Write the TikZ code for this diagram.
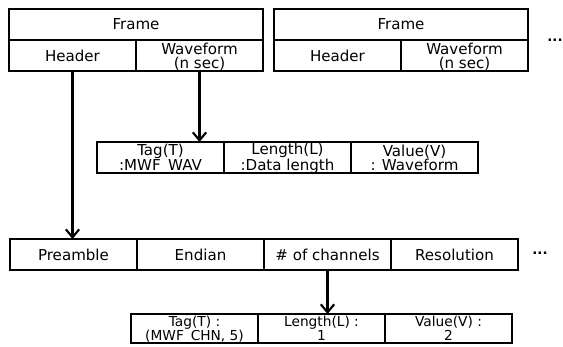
\documentclass[tikz,border=0pt]{standalone}
\usepackage{fontspec}
\setmainfont{DejaVu Sans}
\usetikzlibrary{arrows.meta, positioning}

\begin{document}
\begin{tikzpicture}[x=0.75pt, y=-0.75pt, node distance=0pt]
        \tikzstyle{cell} = [rectangle, draw=black, line width=1.1pt, outer sep=0pt, inner sep=0pt, minimum width=95.25pt, minimum height=23.25pt, align=center, font=\fontsize{11.3}{10.5}\selectfont]
        \tikzstyle{wide} = [cell, minimum width=190.5pt]
        \tikzstyle{pair} = [cell, text height=20pt, text depth=0pt]
        \tikzstyle{small} = [cell, minimum height=21.75pt, text height=17.4pt, text depth=0pt, font=\fontsize{10.3}{10}\selectfont]
        \tikzstyle{link} = [draw=black, line width=1.6pt, -{Straight Barb[length=6pt, width=10pt, line width=1.6pt]}]
        \useasboundingbox (0,0) rectangle (563,346);

        % Frames
        \node (frameA) [wide, anchor=north west] at (9,9) {Frame};
        \node (headerA) [cell, anchor=north west] at (frameA.south west) {Header};
        \node (waveA) [pair, right=of headerA] {Waveform\\(n sec)};

        \node (frameB) [wide, anchor=north west] at (274,9) {Frame};
        \node (headerB) [cell, anchor=north west] at (frameB.south west) {Header};
        \node (waveB) [pair, right=of headerB] {Waveform\\(n sec)};
        \node (moreA) at (555,40) {\bfseries ...};

        % Waveform TLV
        \node (tagA) [pair, anchor=north west] at (97,142) {Tag(T)\\:MWF\_WAV};
        \node (lenA) [pair, right=of tagA] {Length(L)\\:Data length};
        \node (valA) [pair, right=of lenA] {Value(V)\\: Waveform};

        % Header fields
        \node (preamble) [cell, anchor=north west] at (10,239) {Preamble};
        \node (endian) [cell, right=of preamble] {Endian};
        \node (channels) [cell, right=of endian] {\# of channels};
        \node (resolution) [cell, right=of channels] {Resolution};
        \node (moreB) at (540,253) {\bfseries ...};

        % Channel TLV
        \node (tagB) [small, anchor=north west] at (131,314) {Tag(T) :\\(MWF\_CHN, 5)};
        \node (lenB) [small, right=of tagB] {Length(L) :\\1};
        \node (valB) [small, right=of lenB] {Value(V) :\\2};

        % Arrows
        \path [link] (headerA.south) -- (headerA.south |- preamble.north);
        \path [link] (waveA.south) -- (waveA.south |- tagA.north);
        \path [link] (channels.south) -- (channels.south |- tagB.north);
    \end{tikzpicture}
\end{document}
